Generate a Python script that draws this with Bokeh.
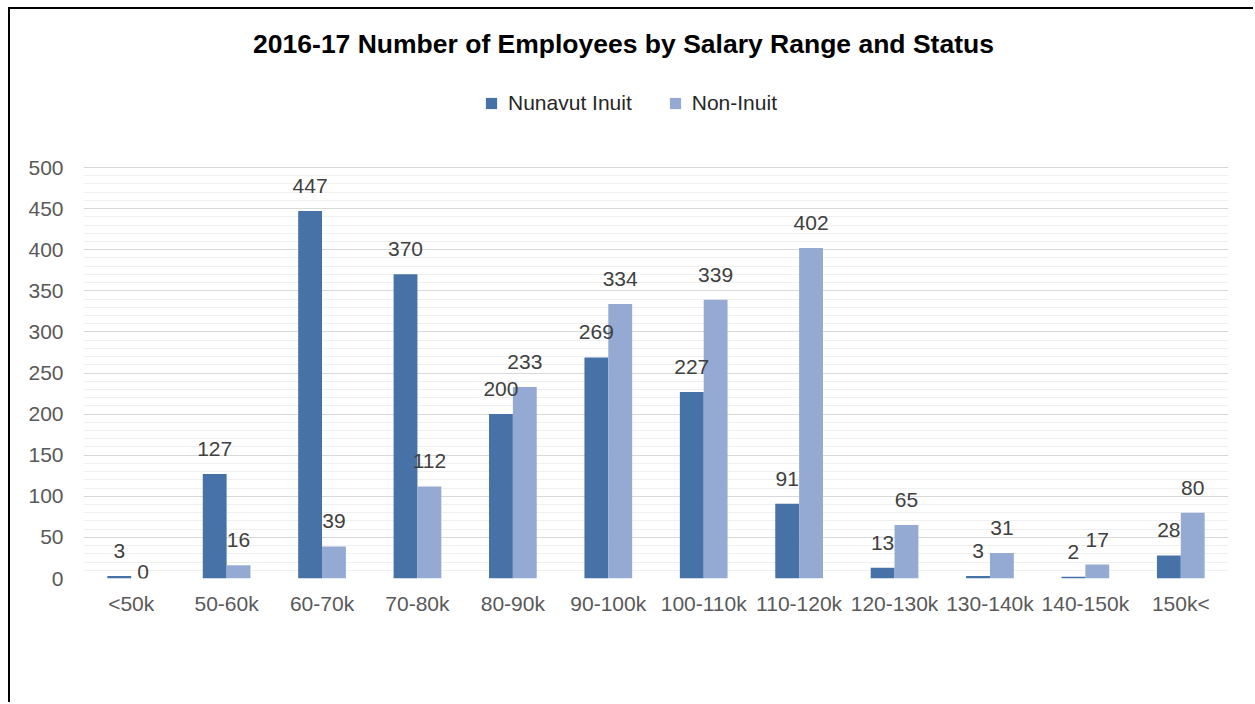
from bokeh.plotting import figure
from bokeh.models import (ColumnDataSource, FactorRange, Range1d, LabelSet, Label,
                          SingleIntervalTicker, Legend, LegendItem, Spacer)
from bokeh.layouts import column, row
from bokeh.transform import dodge
from bokeh.core.properties import value
from bokeh.embed import file_html
from bokeh.resources import INLINE

categories = ["<50k", "50-60k", "60-70k", "70-80k", "80-90k", "90-100k",
              "100-110k", "110-120k", "120-130k", "130-140k", "140-150k", "150k<"]
nunavut_inuit = [3, 127, 447, 370, 200, 269, 227, 91, 13, 3, 2, 28]
non_inuit = [0, 16, 39, 112, 233, 334, 339, 402, 65, 31, 17, 80]
series_names = ["Nunavut Inuit", "Non-Inuit"]
title_text = "2016-17 Number of Employees by Salary Range and Status"
y_max = 500

FONT = "Liberation Sans"
C1 = "#4672A8"
C2 = "#94AAD3"

# layout constants (pixels)
CANVAS_W, CANVAS_H = 1245, 695
BORDER_L, BORDER_R, BORDER_B = 73, 27, 126
PLOT_H = 411                      # pixels covered by 0..y_max
FRAME_H = CANVAS_H - BORDER_B     # frame spans to canvas top
y_end = y_max * FRAME_H / PLOT_H

src = ColumnDataSource(dict(
    cat=categories,
    a=nunavut_inuit,
    b=non_inuit,
    a_txt=[str(v) for v in nunavut_inuit],
    b_txt=[str(v) for v in non_inuit],
    a_off=[18 if v > 0 else 0 for v in nunavut_inuit],
    b_off=[18 if v > 0 else 0 for v in non_inuit],
))

p = figure(x_range=FactorRange(*categories), y_range=Range1d(0, y_end),
           width=CANVAS_W, height=CANVAS_H, output_backend="svg", toolbar_location=None,
           min_border_left=BORDER_L, min_border_right=BORDER_R, min_border_top=0,
           min_border_bottom=BORDER_B, background_fill_color="white",
           border_fill_color="white")
p.title = None
p.outline_line_color = None
p.styles = {"border-top": "2px solid black", "border-left": "2px solid black"}

r1 = p.vbar(x=dodge("cat", -0.125, range=p.x_range), top="a", width=0.25,
            source=src, fill_color=C1, line_color=None)
r2 = p.vbar(x=dodge("cat", 0.125, range=p.x_range), top="b", width=0.25,
            source=src, fill_color=C2, line_color=None)

for col, txt, off, dx in [("a", "a_txt", "a_off", -0.125), ("b", "b_txt", "b_off", 0.125)]:
    ls = LabelSet(x=dodge("cat", dx, range=p.x_range), y=col, text=txt, source=src,
                  y_offset=off, text_align="center", text_baseline="bottom",
                  text_font=value(FONT), text_font_size=value("21px"),
                  text_color="#404040")
    p.add_layout(ls)

# axes
p.yaxis.ticker = SingleIntervalTicker(interval=50, num_minor_ticks=5)
p.yaxis.bounds = (0, y_max)
for ax in (p.xaxis, p.yaxis):
    ax.axis_line_color = None
    ax.major_tick_line_color = None
    ax.minor_tick_line_color = None
    ax.major_label_text_font = FONT
    ax.major_label_text_font_size = "21px"
    ax.major_label_text_color = "#595959"
p.yaxis.major_label_standoff = 14
p.xaxis.major_label_standoff = 7

p.xgrid.grid_line_color = None
p.ygrid.bounds = (0, y_max)
p.ygrid.grid_line_color = "#d9d9d9"
p.ygrid.grid_line_width = 1
p.ygrid.minor_grid_line_color = "#f0f0f0"
p.ygrid.minor_grid_line_width = 1

legend = Legend(items=[LegendItem(label=series_names[0], renderers=[r1]),
                       LegendItem(label=series_names[1], renderers=[r2])],
                location=(401, 463), orientation="horizontal",
                glyph_width=14, glyph_height=14, label_standoff=10, spacing=36,
                padding=0, margin=0, border_line_color=None,
                background_fill_alpha=0, label_text_font=FONT,
                label_text_font_size="21px", label_text_color="#262626")
p.add_layout(legend, "center")

title = Label(x=540, y=535, x_units="screen", y_units="screen", text=title_text,
              text_align="center", text_baseline="alphabetic", text_font=FONT,
              text_font_size="26.5px", text_font_style="bold", text_color="black")
p.add_layout(title)

layout = column(Spacer(height=7), row(Spacer(width=8), p))

open("out.html", "w").write(file_html(layout, INLINE))
